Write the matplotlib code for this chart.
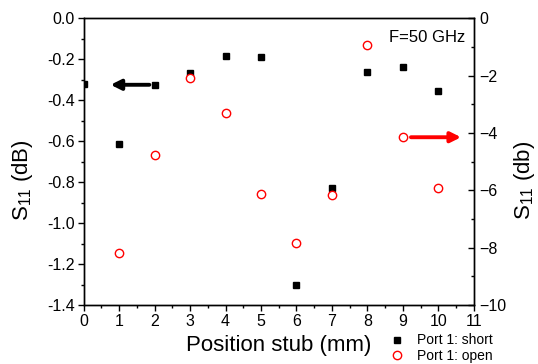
import matplotlib
matplotlib.use("Agg")
import matplotlib.pyplot as plt
from matplotlib.ticker import MultipleLocator

plt.rcParams['font.family'] = ['Liberation Sans', 'DejaVu Sans']
plt.rcParams['mathtext.default'] = 'regular'

# data
pos_short = [0, 1, 2, 3, 4, 5, 6, 7, 8, 9, 10]
s11_short = [-0.323, -0.615, -0.327, -0.267, -0.184, -0.187, -1.301, -0.831, -0.262, -0.236, -0.353]
pos_open = [1, 2, 3, 4, 5, 6, 7, 8, 9, 10]
s11_open = [-8.18, -4.77, -2.07, -3.29, -6.12, -7.83, -6.18, -0.95, -4.15, -5.91]

fig = plt.figure(figsize=(5.38, 3.64), dpi=100)
ax = fig.add_axes([0.1556, 0.162, 0.725, 0.788])
ax2 = ax.twinx()

# short port on the left axis
ax.plot(pos_short, s11_short, 's', color='black', markersize=4.5, label='Port 1: short')
ax.set_xlim(0, 11)
ax.set_ylim(-1.4, 0.0)
ax.xaxis.set_major_locator(MultipleLocator(1))
ax.xaxis.set_minor_locator(MultipleLocator(0.5))
ax.yaxis.set_major_locator(MultipleLocator(0.2))
ax.yaxis.set_minor_locator(MultipleLocator(0.1))
ax.yaxis.set_major_formatter(matplotlib.ticker.FormatStrFormatter('%.1f'))
ax.tick_params(which='major', direction='out', length=4.5, width=1, labelsize=11.5, pad=2)
ax.tick_params(which='minor', direction='out', length=2.5, width=1)
ax.set_xlabel('Position stub (mm)', fontsize=16, labelpad=4)
ax.set_ylabel('S$_{11}$ (dB)', fontsize=16)
ax.yaxis.set_label_coords(-0.125, 0.435)

# open port on the right axis
ax2.plot(pos_open, s11_open, 'o', markerfacecolor='white', markeredgecolor='red',
         markeredgewidth=1, markersize=6, label='Port 1: open')
ax2.set_ylim(-10, 0)
ax2.yaxis.set_major_locator(MultipleLocator(2))
ax2.yaxis.set_minor_locator(MultipleLocator(1))
ax2.tick_params(which='major', direction='in', length=4, width=1, labelsize=11.5, pad=4)
ax2.tick_params(which='minor', direction='in', length=2.5, width=1)
ax2.set_ylabel('S$_{11}$ (db)', fontsize=16, rotation=90)
ax2.yaxis.set_label_coords(1.098, 0.435)

for a in (ax, ax2):
    for s in a.spines.values():
        s.set_linewidth(1)

# arrows pointing to the matching axis
ax.annotate('', xy=(0.68, -0.325), xytext=(1.93, -0.325),
            arrowprops=dict(arrowstyle='-|>', color='black', lw=2.8, mutation_scale=15))
ax2.annotate('', xy=(10.72, -4.15), xytext=(9.15, -4.15),
             arrowprops=dict(arrowstyle='-|>', color='red', lw=2.8, mutation_scale=15))

ax.text(0.978, 0.958, 'F=50 GHz', transform=ax.transAxes, ha='right', va='top', fontsize=12)

h1, l1 = ax.get_legend_handles_labels()
h2, l2 = ax2.get_legend_handles_labels()
fig.legend(h1 + h2, l1 + l2, loc='lower left', bbox_to_anchor=(0.715, -0.012),
           frameon=False, fontsize=10, handletextpad=0.9, labelspacing=0.1,
           handlelength=1.0, borderaxespad=0)

fig.savefig('out.png', dpi=100)
